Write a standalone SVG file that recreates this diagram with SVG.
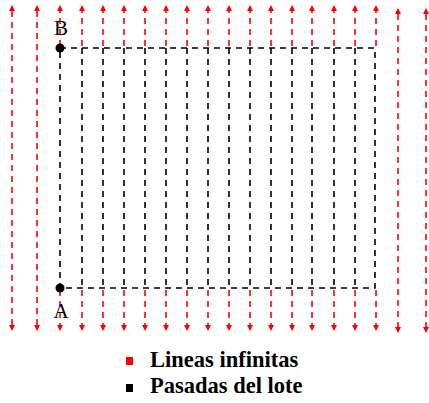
<svg xmlns="http://www.w3.org/2000/svg" width="429" height="403" viewBox="0 0 429 403">
<style>
.red{stroke:#ff0000;stroke-width:1.6;stroke-dasharray:6 5;fill:none}
.blk{stroke:#000;stroke-width:1.6;stroke-dasharray:6 5;fill:none}
.lbl{font-family:"Liberation Serif","Times New Roman",serif;fill:#000}
</style>
<defs>
<marker id="ah" viewBox="0 0 6 6" refX="0" refY="3" markerWidth="6" markerHeight="6" markerUnits="userSpaceOnUse" orient="auto-start-reverse">
<path d="M0,0 L6,3 L0,6 z" fill="#ff0000"/>
</marker>
</defs>
<rect width="429" height="403" fill="#fff"/>
<g id="connectors">
<g id="lineas-infinitas">
<line class="red" x1="12" y1="11" x2="12" y2="325" marker-start="url(#ah)" marker-end="url(#ah)"/>
<line class="red" x1="37" y1="11" x2="37" y2="325" marker-start="url(#ah)" marker-end="url(#ah)"/>
<line class="red" x1="398" y1="14" x2="398" y2="327" marker-start="url(#ah)" marker-end="url(#ah)"/>
<line class="red" x1="426" y1="14" x2="426" y2="327" marker-start="url(#ah)" marker-end="url(#ah)"/>
<g id="top-segments">
<line class="red" x1="60" y1="46" x2="60" y2="11" marker-end="url(#ah)"/>
<line class="red" x1="82" y1="46" x2="82" y2="11" marker-end="url(#ah)"/>
<line class="red" x1="103" y1="46" x2="103" y2="11" marker-end="url(#ah)"/>
<line class="red" x1="124" y1="46" x2="124" y2="11" marker-end="url(#ah)"/>
<line class="red" x1="145" y1="46" x2="145" y2="11" marker-end="url(#ah)"/>
<line class="red" x1="166" y1="46" x2="166" y2="11" marker-end="url(#ah)"/>
<line class="red" x1="187" y1="46" x2="187" y2="11" marker-end="url(#ah)"/>
<line class="red" x1="208" y1="46" x2="208" y2="11" marker-end="url(#ah)"/>
<line class="red" x1="229" y1="46" x2="229" y2="11" marker-end="url(#ah)"/>
<line class="red" x1="250" y1="46" x2="250" y2="11" marker-end="url(#ah)"/>
<line class="red" x1="271" y1="46" x2="271" y2="11" marker-end="url(#ah)"/>
<line class="red" x1="292" y1="46" x2="292" y2="11" marker-end="url(#ah)"/>
<line class="red" x1="312" y1="46" x2="312" y2="11" marker-end="url(#ah)"/>
<line class="red" x1="334" y1="46" x2="334" y2="11" marker-end="url(#ah)"/>
<line class="red" x1="355" y1="46" x2="355" y2="11" marker-end="url(#ah)"/>
<line class="red" x1="376" y1="46" x2="376" y2="11" marker-end="url(#ah)"/>
</g>
<g id="bottom-segments">
<line class="red" x1="60" y1="290" x2="60" y2="325" marker-end="url(#ah)"/>
<line class="red" x1="82" y1="290" x2="82" y2="325" marker-end="url(#ah)"/>
<line class="red" x1="103" y1="290" x2="103" y2="325" marker-end="url(#ah)"/>
<line class="red" x1="124" y1="290" x2="124" y2="325" marker-end="url(#ah)"/>
<line class="red" x1="145" y1="290" x2="145" y2="325" marker-end="url(#ah)"/>
<line class="red" x1="166" y1="290" x2="166" y2="325" marker-end="url(#ah)"/>
<line class="red" x1="187" y1="290" x2="187" y2="325" marker-end="url(#ah)"/>
<line class="red" x1="208" y1="290" x2="208" y2="325" marker-end="url(#ah)"/>
<line class="red" x1="229" y1="290" x2="229" y2="325" marker-end="url(#ah)"/>
<line class="red" x1="250" y1="290" x2="250" y2="325" marker-end="url(#ah)"/>
<line class="red" x1="271" y1="290" x2="271" y2="325" marker-end="url(#ah)"/>
<line class="red" x1="292" y1="290" x2="292" y2="325" marker-end="url(#ah)"/>
<line class="red" x1="312" y1="290" x2="312" y2="325" marker-end="url(#ah)"/>
<line class="red" x1="334" y1="290" x2="334" y2="325" marker-end="url(#ah)"/>
<line class="red" x1="355" y1="290" x2="355" y2="325" marker-end="url(#ah)"/>
<line class="red" x1="376" y1="290" x2="376" y2="325" marker-end="url(#ah)"/>
</g>
</g>
<g id="pasadas-del-lote">
<rect class="blk" x="60" y="48" width="315" height="240"/>
<line class="blk" x1="82" y1="48" x2="82" y2="288"/>
<line class="blk" x1="103" y1="48" x2="103" y2="288"/>
<line class="blk" x1="124" y1="48" x2="124" y2="288"/>
<line class="blk" x1="145" y1="48" x2="145" y2="288"/>
<line class="blk" x1="166" y1="48" x2="166" y2="288"/>
<line class="blk" x1="187" y1="48" x2="187" y2="288"/>
<line class="blk" x1="208" y1="48" x2="208" y2="288"/>
<line class="blk" x1="229" y1="48" x2="229" y2="288"/>
<line class="blk" x1="250" y1="48" x2="250" y2="288"/>
<line class="blk" x1="271" y1="48" x2="271" y2="288"/>
<line class="blk" x1="292" y1="48" x2="292" y2="288"/>
<line class="blk" x1="312" y1="48" x2="312" y2="288"/>
<line class="blk" x1="334" y1="48" x2="334" y2="288"/>
<line class="blk" x1="355" y1="48" x2="355" y2="288"/>
</g>
</g>
<g id="point-B">
<text class="lbl" x="61" y="35" font-size="21" text-anchor="middle">B</text>
<circle cx="60" cy="48" r="4.5" fill="#000"/>
</g>
<g id="point-A">
<circle cx="60" cy="288" r="4.5" fill="#000"/>
<text class="lbl" x="61" y="318" font-size="21" text-anchor="middle">A</text>
</g>
<g id="legend">
<rect x="126" y="357" width="7" height="8" fill="#ff0000"/>
<text class="lbl" x="150" y="367" font-size="22.5" font-weight="bold">Lineas infinitas</text>
<rect x="126" y="384" width="7" height="8" fill="#000"/>
<text class="lbl" x="150" y="393" font-size="22.5" font-weight="bold">Pasadas del lote</text>
</g>
</svg>
